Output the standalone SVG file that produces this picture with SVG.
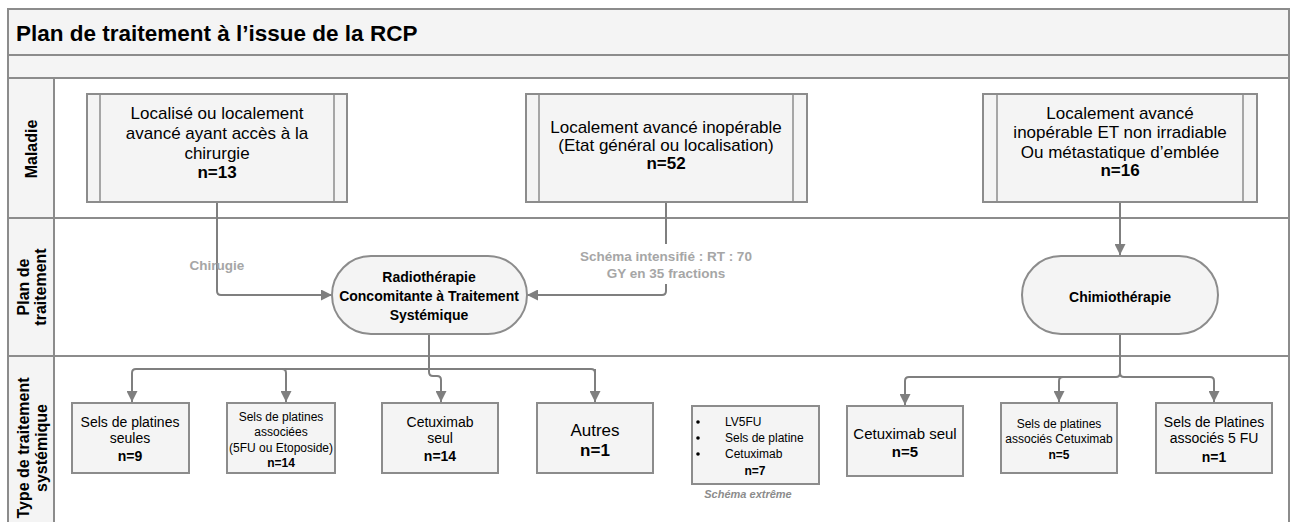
<svg xmlns="http://www.w3.org/2000/svg" width="1295" height="522" viewBox="0 0 1295 522">
<defs>
<marker id="arr" viewBox="0 0 10 10" refX="10" refY="5" markerWidth="11" markerHeight="11" markerUnits="userSpaceOnUse" orient="auto">
<path d="M0,0 L10,5 L0,10 z" fill="#7f7f7f"/>
</marker>
<style>
.frame{fill:none;stroke:#8c8c8c;stroke-width:2}
.band{fill:#f4f4f4;stroke:#8c8c8c;stroke-width:2}
.node{fill:#f4f4f4;stroke:#8c8c8c;stroke-width:2}
.inner{stroke:#8c8c8c;stroke-width:1.5}
.conn{fill:none;stroke:#7f7f7f;stroke-width:2;marker-end:url(#arr)}
.line{fill:none;stroke:#7f7f7f;stroke-width:2}
text{font-family:"Liberation Sans",Arial,sans-serif;fill:#000;text-anchor:middle}
.title{font-size:22.5px;font-weight:bold;text-anchor:start}
.lane{font-size:16px;font-weight:bold}
.t17{font-size:17px}
.t16{font-size:16px}
.t14{font-size:14px}
.t15{font-size:15px}
.t13{font-size:13px}
.t12{font-size:12px}
.b{font-weight:bold}
.lbl{font-size:13.5px;font-weight:bold;fill:#a6a6a6}
.it{font-size:11px;font-style:italic;font-weight:bold;fill:#8c8c8c}
</style>
</defs>
<g id="pool">
<rect x="8" y="9" width="1281" height="46" class="band"/>
<rect x="8" y="55" width="1281" height="23" class="band"/>
<rect x="54" y="78" width="1235" height="450" fill="#fff" stroke="#8c8c8c" stroke-width="2"/>
<rect x="8" y="78" width="46" height="450" class="band"/>
<line x1="8" y1="218" x2="1289" y2="218" class="frame"/>
<line x1="8" y1="356" x2="1289" y2="356" class="frame"/>
<text x="16" y="41" class="title">Plan de traitement à l’issue de la RCP</text>
<text class="lane" transform="translate(37,149) rotate(-90)">Maladie</text>
<text class="lane" transform="translate(29,287) rotate(-90)">Plan de</text>
<text class="lane" transform="translate(46,287) rotate(-90)">traitement</text>
<text class="lane" transform="translate(29,448) rotate(-90)">Type de traitement</text>
<text class="lane" transform="translate(47,448) rotate(-90)">systémique</text>
</g>
<g id="connectors">
<path d="M217,202 L217,291 Q217,295 221,295 L332,295" class="conn"/>
<path d="M666,202 L666,244 M666,284 L666,291 Q666,295 662,295 L527,295" class="conn"/>
<path d="M1120,202 L1120,255" class="conn"/>
<path d="M429,334 L429,369 M136,369 L591,369 Q595,369 595,373 L595,402" class="line"/>
<path d="M136,369 Q132,369 132,373 L132,402" class="conn"/>
<path d="M282,369 Q286,369 286,373 L286,402" class="conn"/>
<path d="M595,369 Q595,369 595,373 L595,402" class="conn"/>
<path d="M429,369 L429,372 Q429,376 433,376 L437,376 Q441,376 441,380 L441,402" class="conn"/>
<path d="M1120,334 L1120,373 Q1120,377 1116,377 L909,377 Q905,377 905,381 L905,405" class="conn"/>
<path d="M1120,373 Q1120,377 1124,377 L1210,377 Q1214,377 1214,381 L1214,402" class="conn"/>
<path d="M1063,377 Q1059,377 1059,381 L1059,402" class="conn"/>
<text x="217" y="270" class="lbl">Chirugie</text>
<text x="666" y="261" class="lbl">Schéma intensifié : RT : 70</text>
<text x="666" y="278" class="lbl">GY en 35 fractions</text>
</g>
<g id="n1">
<rect x="87" y="94" width="260" height="108" class="node"/>
<line x1="100" y1="94" x2="100" y2="202" class="inner"/>
<line x1="334" y1="94" x2="334" y2="202" class="inner"/>
<text x="217" y="119" class="t17">Localisé ou localement</text>
<text x="217" y="139" class="t17">avancé ayant accès à la</text>
<text x="217" y="159" class="t17">chirurgie</text>
<text x="217" y="178" class="t17 b">n=13</text>
</g>
<g id="n2">
<rect x="526" y="94" width="281" height="108" class="node"/>
<line x1="539" y1="94" x2="539" y2="202" class="inner"/>
<line x1="793" y1="94" x2="793" y2="202" class="inner"/>
<text x="666" y="133" class="t17">Localement avancé inopérable</text>
<text x="666" y="151" class="t17">(Etat général ou localisation)</text>
<text x="666" y="169" class="t17 b">n=52</text>
</g>
<g id="n3">
<rect x="983" y="94" width="274" height="108" class="node"/>
<line x1="997" y1="94" x2="997" y2="202" class="inner"/>
<line x1="1243" y1="94" x2="1243" y2="202" class="inner"/>
<text x="1120" y="119" class="t17">Localement avancé</text>
<text x="1120" y="138" class="t17">inopérable ET non irradiable</text>
<text x="1120" y="158" class="t17">Ou métastatique d’emblée</text>
<text x="1120" y="176" class="t17 b">n=16</text>
</g>
<g id="radio">
<rect x="332" y="256" width="195" height="78" rx="39" ry="39" class="node"/>
<text x="429" y="282" class="t14 b">Radiothérapie</text>
<text x="429" y="301" class="t14 b">Concomitante à Traitement</text>
<text x="429" y="320" class="t14 b">Systémique</text>
</g>
<g id="chimio">
<rect x="1022" y="256" width="196" height="78" rx="39" ry="39" class="node"/>
<text x="1120" y="302" class="t14 b">Chimiothérapie</text>
</g>
<g id="b1">
<rect x="72" y="403" width="117" height="70" class="node"/>
<text x="130" y="427" class="t14">Sels de platines</text>
<text x="130" y="443" class="t14">seules</text>
<text x="130" y="461" class="t14 b">n=9</text>
</g>
<g id="b2">
<rect x="227" y="403" width="108" height="70" class="node"/>
<text x="281" y="421" class="t12">Sels de platines</text>
<text x="281" y="436" class="t12">associées</text>
<text x="281" y="452" class="t12">(5FU ou Etoposide)</text>
<text x="281" y="467" class="t12 b">n=14</text>
</g>
<g id="b3">
<rect x="382" y="403" width="116" height="70" class="node"/>
<text x="440" y="427" class="t14">Cetuximab</text>
<text x="440" y="443" class="t14">seul</text>
<text x="440" y="461" class="t14 b">n=14</text>
</g>
<g id="b4">
<rect x="537" y="403" width="116" height="70" class="node"/>
<text x="595" y="436" class="t17">Autres</text>
<text x="595" y="456" class="t17 b">n=1</text>
</g>
<g id="b5">
<rect x="692" y="406" width="127" height="78" class="node"/>
<circle cx="698" cy="422" r="1.8" fill="#000"/>
<circle cx="698" cy="438" r="1.8" fill="#000"/>
<circle cx="698" cy="454" r="1.8" fill="#000"/>
<text x="725" y="426" class="t12" style="text-anchor:start">LV5FU</text>
<text x="725" y="442" class="t12" style="text-anchor:start">Sels de platine</text>
<text x="725" y="458" class="t12" style="text-anchor:start">Cetuximab</text>
<text x="755" y="475" class="t12 b">n=7</text>
<text x="748" y="498" class="it">Schéma extrême</text>
</g>
<g id="b6">
<rect x="847" y="406" width="116" height="70" class="node"/>
<text x="905" y="439" class="t15">Cetuximab seul</text>
<text x="905" y="457" class="t15 b">n=5</text>
</g>
<g id="b7">
<rect x="1001" y="403" width="116" height="70" class="node"/>
<text x="1059" y="428" class="t12">Sels de platines</text>
<text x="1059" y="443" class="t12">associés Cetuximab</text>
<text x="1059" y="459" class="t12 b">n=5</text>
</g>
<g id="b8">
<rect x="1156" y="403" width="116" height="70" class="node"/>
<text x="1214" y="427" class="t14">Sels de Platines</text>
<text x="1214" y="443" class="t14">associés 5 FU</text>
<text x="1214" y="462" class="t14 b">n=1</text>
</g>
</svg>
